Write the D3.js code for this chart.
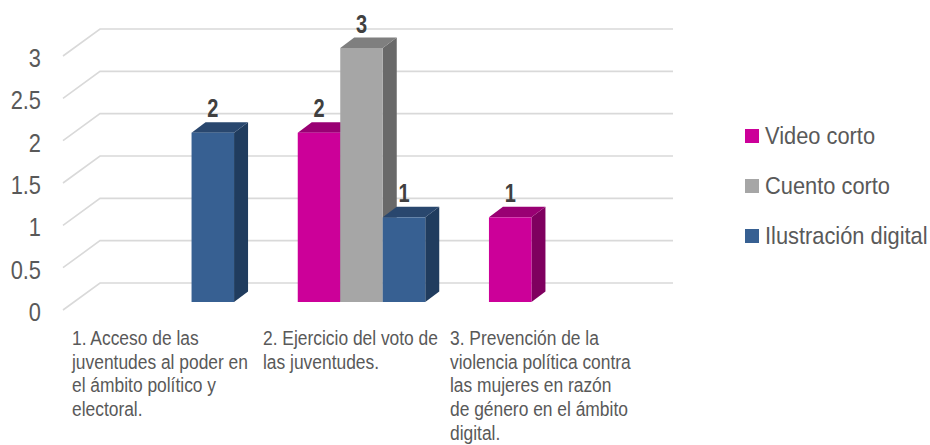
<!DOCTYPE html>
<html><head><meta charset="utf-8">
<script src="https://cdn.jsdelivr.net/npm/d3@7"></script>
<style>html,body{margin:0;padding:0;background:#fff}svg{display:block}text{font-family:"Liberation Sans",Arial,sans-serif}</style>
</head><body><svg id="c" width="930" height="445"></svg>
<script>
const categories = ["c1","c2","c3"];
const categoryLines = [
 ["1. Acceso de las","juventudes al poder en","el ámbito político y","electoral."],
 ["2. Ejercicio del voto de","las juventudes."],
 ["3. Prevención de la","violencia política contra","las mujeres en razón","de género en el ámbito","digital."]
];
const seriesNames = ["Video corto","Cuento corto","Ilustración digital"];
const videoCorto = [null,2,1];
const cuentoCorto = [null,3,null];
const ilustracionDigital = [2,1,null];
const yTicks = [0,0.5,1,1.5,2,2.5,3];
const seriesValues = [videoCorto,cuentoCorto,ilustracionDigital];
const faceColors = ["#CC0099","#A6A6A6","#376092"];
const topColors = ["#990073","#7F7F7F","#29476E"];
const sideColors = ["#7F005F","#696969","#203C5E"];

const svg = d3.select("#c");
const y = d3.scaleLinear().domain([0,3]).range([302,48]);
const x0 = d3.scaleBand().domain(categories).range([74.7,648.3]);
const groupW = 127.5;
const x1 = d3.scaleBand().domain(d3.range(3)).range([0,groupW]);
const groupOffset = (x0.bandwidth()-groupW)/2;
const dx = 14, dy = 10.5;
const narrow = 0.84;

// gridlines
const gridX0=63, gridX1=100, gridX2=673, gridFront=8, gridBack=-19;
const grid = svg.append("g");
yTicks.forEach(v=>{
  grid.append("path").attr("fill","none").attr("stroke","#D9D9D9").attr("stroke-width",1.6)
   .attr("d",d3.line()([[gridX0,y(v)+gridFront],[gridX1,y(v)+gridBack],[gridX2,y(v)+gridBack]]));
});
function narrowText(g,x,yy,str,size,fill,anchor,weight,sc){
  return g.append("text").attr("transform",`translate(${x},${yy}) scale(${sc||narrow},1)`)
    .attr("font-size",size).attr("fill",fill).attr("text-anchor",anchor||"start")
    .attr("font-weight",weight||"normal").text(str);
}
const axis = svg.append("g");
yTicks.forEach(v=>narrowText(axis,41,y(v)+19,d3.format("")(v),26,"#595959","end"));

// bars
const bars = svg.append("g");
const labels = [];
categories.forEach((c,ci)=>{
  seriesValues.forEach((vals,si)=>{
    const v = vals[ci];
    if(v==null) return;
    const xl = x0(c)+groupOffset+x1(si), w = x1.bandwidth(), yt = y(v), yb = y(0);
    const g = bars.append("g");
    g.append("path").attr("fill",sideColors[si])
      .attr("d",d3.line()([[xl+w,yt],[xl+w+dx,yt-dy],[xl+w+dx,yb-dy],[xl+w,yb]])+"Z");
    g.append("path").attr("fill",topColors[si])
      .attr("d",d3.line()([[xl,yt],[xl+dx,yt-dy],[xl+w+dx,yt-dy],[xl+w,yt]])+"Z");
    g.append("rect").attr("x",xl).attr("y",yt).attr("width",w).attr("height",yb-yt).attr("fill",faceColors[si]);
    labels.push({x:xl+w/2,y:yt-dy-6,v});
  });
});
labels.forEach(l=>narrowText(svg,l.x,l.y+1,l.v,25,"#404040","middle","bold",0.8));

// category labels
const catStart = [72,263,450];
const lineStep = 23.7;
categoryLines.forEach((lines,i)=>lines.forEach((t,j)=>
  narrowText(svg,catStart[i],345+j*lineStep,t,20,"#595959","start","normal",0.87)));

// legend
seriesNames.forEach((n,i)=>{
  const ly = 143+i*50;
  svg.append("rect").attr("x",745).attr("y",ly-14).attr("width",14).attr("height",14).attr("fill",faceColors[i]);
  narrowText(svg,765,ly+1,n,24,"#595959","start","normal",0.91);
});
</script></body></html>
